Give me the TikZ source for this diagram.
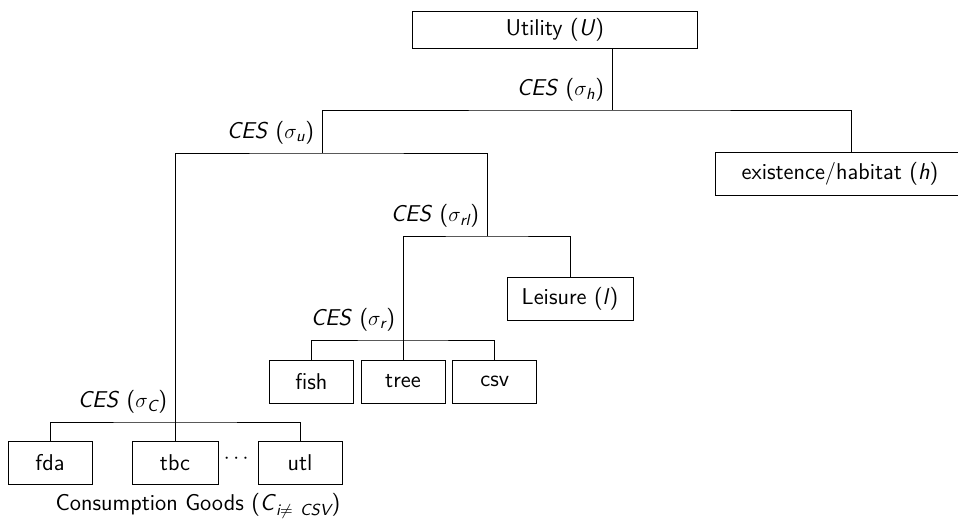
\documentclass[tikz,border=0pt]{standalone}
\usepackage{amsmath}
\renewcommand{\familydefault}{\sfdefault}
\usetikzlibrary{positioning}

\begin{document}
\begin{tikzpicture}[x=0.02cm, y=-0.02cm, font=\fontsize{13}{15}\selectfont,
  box/.style={draw, minimum height=0.86cm, minimum width=1.68cm, inner sep=0pt},
  ces/.style={anchor=south east, inner xsep=0.15cm, inner ysep=0.17cm}]
  \clip (0,0) rectangle (958,523);
  % top level
  \node[box, minimum width=5.7cm, minimum height=0.74cm] (util) at (555,29.5) {Utility (\textit{U})};
  \node[box, minimum width=5.0cm] (habit) at (840,173.5) {existence/habitat (\textit{h})};
  \node[box, minimum width=2.52cm] (leis) at (570,298.5) {Leisure (\textit{l})};
  % resources
  \node[box] (tree) at (403,381.5) {tree};
  \node[box, left=0.14cm of tree] (fish) {fish};
  \node[box, right=0.14cm of tree] (csv) {csv};
  % consumption goods
  \node[box] (fda) at (50,463) {fda};
  \node[box, minimum width=1.72cm] (tbc) at (175,463) {tbc};
  \node[box] (utl) at (300,463) {utl};
  \node (dots) at (238,459) {$\cdots$};
  \node (goods) at (198,506) {Consumption Goods (\textit{C}$_{\textit{i}\neq\ \textit{CSV}}$)};
  % nests
  \coordinate (jh) at (612,110);
  \coordinate (hx) at (851,110);
  \coordinate (ju) at (322,153);
  \coordinate (jrl) at (487,236);
  \coordinate (jr) at (403,340);
  \coordinate (jc) at (175,422);
  \draw (jh |- util.south) -- (jh);
  \draw (ju) |- (jh) -- (hx) -- (hx |- habit.north);
  \draw (jc) |- (ju) -| (jrl);
  \draw (jr) |- (jrl) -| (leis.north);
  \draw (tree.north) -- (jr);
  \draw (fish.north) |- (jr) -| (csv.north);
  \draw (tbc.north) -- (jc);
  \draw (fda.north) |- (jc) -| (utl.north);
  \node[ces] at (jh) {\textit{CES} ($\sigma_{\textit{h}}$)};
  \node[ces] at (ju) {\textit{CES} ($\sigma_{\textit{u}}$)};
  \node[ces] at (jrl) {\textit{CES} ($\sigma_{\textit{rl}}$)};
  \node[ces] at (jr) {\textit{CES} ($\sigma_{\textit{r}}$)};
  \node[ces] at (jc) {\textit{CES} ($\sigma_{\textit{C}}$)};
\end{tikzpicture}
\end{document}
